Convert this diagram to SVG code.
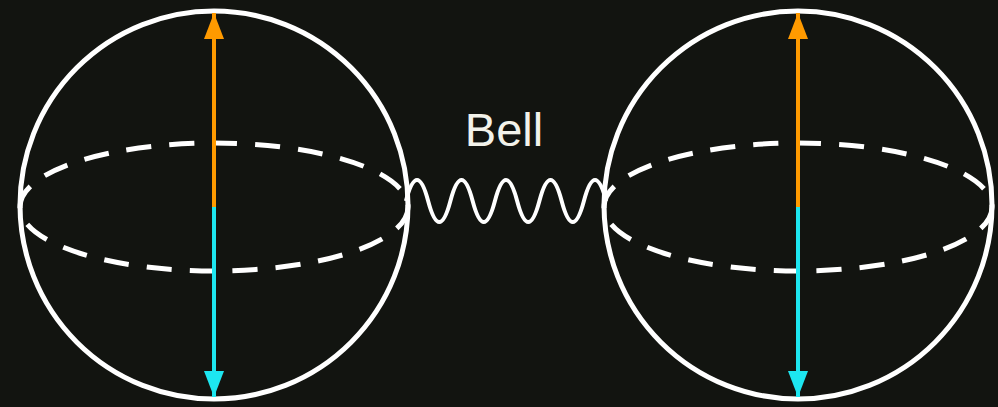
<svg xmlns="http://www.w3.org/2000/svg" width="998" height="407" viewBox="0 0 998 407">
<defs>
<style>
.sphere{fill:none;stroke:#ffffff;stroke-width:5}
.eq{fill:none;stroke:#ffffff;stroke-width:5;stroke-dasharray:25 18}
.up{stroke:#ff9a00;stroke-width:4}
.down{stroke:#1de6f0;stroke-width:4}
.wave{fill:none;stroke:#ffffff;stroke-width:4;stroke-linejoin:round}
.label{font-family:"Liberation Sans",Arial,sans-serif;font-size:47px;fill:#f2f2ea}
</style>
<marker id="ahO" markerUnits="userSpaceOnUse" markerWidth="26" markerHeight="20" refX="26" refY="10" orient="auto" viewBox="0 0 26 20">
<path d="M0,0 L26,10 L0,20 Z" fill="#ff9a00"/>
</marker>
<marker id="ahC" markerUnits="userSpaceOnUse" markerWidth="26" markerHeight="20" refX="26" refY="10" orient="auto" viewBox="0 0 26 20">
<path d="M0,0 L26,10 L0,20 Z" fill="#1de6f0"/>
</marker>
</defs>
<rect width="998" height="407" fill="#121410"/>
<g id="sphere-left">
<circle class="sphere" cx="214" cy="205" r="194"/>
<ellipse class="eq" cx="214" cy="207" rx="194" ry="64"/>
<line class="up" x1="214" y1="207" x2="214" y2="13" marker-end="url(#ahO)"/>
<line class="down" x1="214" y1="207" x2="214" y2="397" marker-end="url(#ahC)"/>
</g>
<g id="sphere-right">
<circle class="sphere" cx="798" cy="205" r="194"/>
<ellipse class="eq" cx="798" cy="207" rx="194" ry="64"/>
<line class="up" x1="798" y1="207" x2="798" y2="13" marker-end="url(#ahO)"/>
<line class="down" x1="798" y1="207" x2="798" y2="397" marker-end="url(#ahC)"/>
</g>
<g id="connectors">
<path class="wave" d="M405.9,201 q11.125,-42 22.25,0 t22.25,0 t22.25,0 t22.25,0 t22.25,0 t22.25,0 t22.25,0 t22.25,0 t22.25,0"/>
</g>
<g id="label-bell">
<text class="label" x="504" y="146" text-anchor="middle">Bell</text>
</g>
</svg>
